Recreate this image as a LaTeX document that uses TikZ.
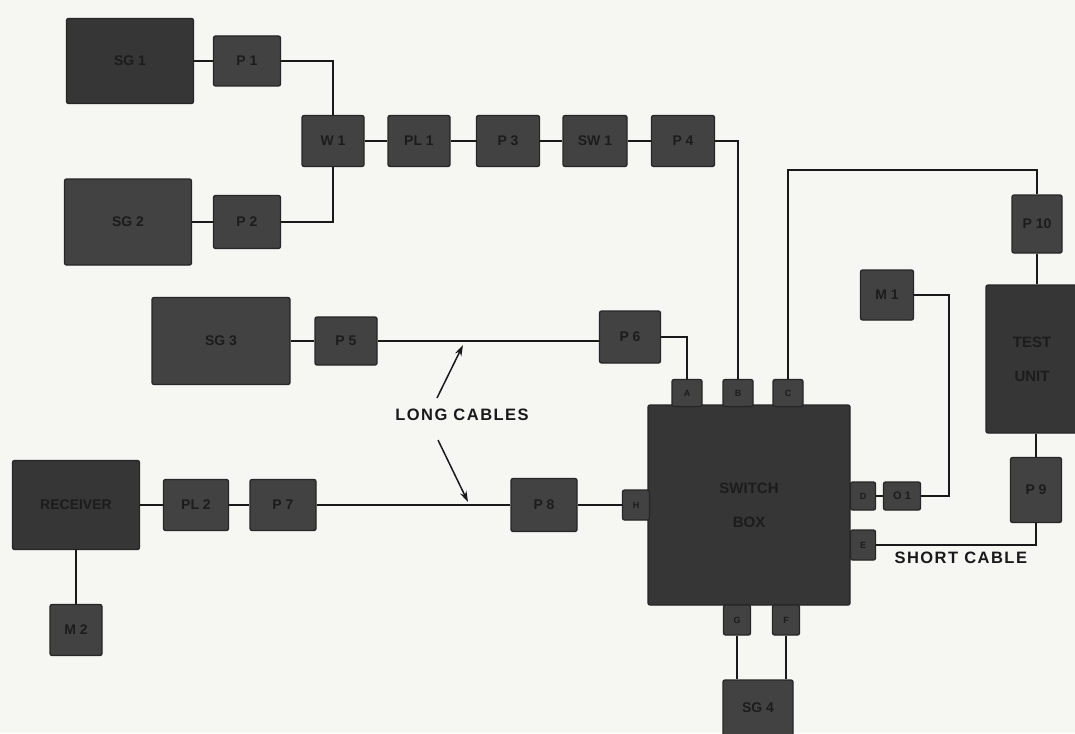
\documentclass[tikz,border=0pt]{standalone}
\usepackage{fontspec}
\setmainfont{Liberation Sans}
\usetikzlibrary{arrows.meta}
\definecolor{paper}{HTML}{F6F6F3}
\definecolor{boxfill}{HTML}{424242}
\definecolor{boxdark}{HTML}{363636}
\definecolor{boxtext}{HTML}{1C1C1C}
\tikzset{
  unit/.style={draw=black!85, line width=1.3pt, fill=boxfill, rounded corners=2pt,
    inner sep=0pt, text=boxtext, font=\bfseries\fontsize{14}{16}\selectfont, align=center},
  bigunit/.style={unit, fill=boxdark},
  port/.style={unit, font=\bfseries\fontsize{9}{10}\selectfont},
  wire/.style={draw=black!90, line width=1.8pt},
  note/.style={font=\bfseries\fontsize{16.5}{18}\selectfont\addfontfeature{LetterSpace=9}, text=black!90},
  pointer/.style={draw=black!90, line width=1.5pt, -{Stealth[length=11pt,width=7pt]}}
}
\begin{document}
\begin{tikzpicture}[x=1pt,y=-1pt]
\fill[paper] (0,0) rectangle (1075,733);
\useasboundingbox (0,0) rectangle (1075,733);

% top-left group
\node[bigunit, minimum width=127pt, minimum height=85pt] (sg1) at (130,61) {SG 1};
\node[unit, minimum width=67pt, minimum height=50pt] (p1) at (247,61) {P 1};
\node[unit, minimum width=127pt, minimum height=86pt] (sg2) at (128,222) {SG 2};
\node[unit, minimum width=67pt, minimum height=53pt] (p2) at (247,222) {P 2};

% chain
\node[unit, minimum width=62pt, minimum height=51pt] (w1) at (333,141) {W 1};
\node[unit, minimum width=62pt, minimum height=51pt] (pl1) at (419,141) {PL 1};
\node[unit, minimum width=63pt, minimum height=51pt] (p3) at (508,141) {P 3};
\node[unit, minimum width=64pt, minimum height=51pt] (sw1) at (595,141) {SW 1};
\node[unit, minimum width=63pt, minimum height=51pt] (p4) at (683,141) {P 4};

% middle
\node[unit, minimum width=138pt, minimum height=87pt] (sg3) at (221,341) {SG 3};
\node[unit, minimum width=62pt, minimum height=48pt] (p5) at (346,341) {P 5};
\node[unit, minimum width=61pt, minimum height=52pt] (p6) at (630,337) {P 6};

% receiver line
\node[bigunit, minimum width=127pt, minimum height=89pt] (rec) at (76,505) {RECEIVER};
\node[unit, minimum width=65pt, minimum height=51pt] (pl2) at (196,505) {PL 2};
\node[unit, minimum width=66pt, minimum height=51pt] (p7) at (283,505) {P 7};
\node[unit, minimum width=66pt, minimum height=53pt] (p8) at (544,505) {P 8};
\node[unit, minimum width=52pt, minimum height=51pt] (m2) at (76,630) {M 2};

% switch box and ports
\node[bigunit, minimum width=202pt, minimum height=200pt, font=\bfseries\fontsize{15}{30}\selectfont] (sw) at (749,505) {SWITCH\\[4pt]BOX};
\node[port, minimum width=30pt, minimum height=27pt] (pa) at (687,393) {A};
\node[port, minimum width=30pt, minimum height=27pt] (pb) at (738,393) {B};
\node[port, minimum width=30pt, minimum height=27pt] (pc) at (788,393) {C};
\node[port, minimum width=27pt, minimum height=30pt] (ph) at (636,505) {H};
\node[port, minimum width=25pt, minimum height=28pt] (pd) at (863,496) {D};
\node[port, minimum width=25pt, minimum height=30pt] (pe) at (863,545) {E};
\node[port, minimum width=27pt, minimum height=30pt] (pg) at (737,620) {G};
\node[port, minimum width=27pt, minimum height=30pt] (pf) at (786,620) {F};
\node[unit, minimum width=37pt, minimum height=28pt, font=\bfseries\fontsize{11}{12}\selectfont] (o1) at (902,496) {O 1};
\node[unit, minimum width=70pt, minimum height=56pt] (sg4) at (758,708) {SG 4};

% right side
\node[unit, minimum width=53pt, minimum height=50pt] (m1) at (887,295) {M 1};
\node[unit, minimum width=50pt, minimum height=58pt] (p10) at (1037,224) {P 10};
\node[bigunit, minimum width=92pt, minimum height=148pt, font=\bfseries\fontsize{15}{30}\selectfont] (tu) at (1032,359) {TEST\\[4pt]UNIT};
\node[unit, minimum width=51pt, minimum height=65pt] (p9) at (1036,490) {P 9};

% wires
\draw[wire] (sg1) -- (p1);
\draw[wire] (sg2) -- (p2);
\draw[wire] (p1.east) -| (w1.north);
\draw[wire] (p2.east) -| (w1.south);
\draw[wire] (w1) -- (pl1);
\draw[wire] (pl1) -- (p3);
\draw[wire] (p3) -- (sw1);
\draw[wire] (sw1) -- (p4);
\draw[wire] (p4.east) -| (pb.north);
\draw[wire] (sg3) -- (p5);
\draw[wire] (p5.east) -- (p5.east -| p6.west);
\draw[wire] (p6.east) -| (pa.north);
\coordinate (c1) at (788,170);
\draw[wire] (pc.north) -- (c1) -| (p10.north);
\draw[wire] (p10) -- (p10.south |- tu.north);
\draw[wire] (tu.south -| p9.north) -- (p9);
\draw[wire] (m1.east) -- (949,295) |- (o1.east);
\draw[wire] (pd) -- (o1);
\draw[wire] (pe.east) -| (p9.south);
\draw[wire] (rec) -- (pl2);
\draw[wire] (pl2) -- (p7);
\draw[wire] (p7) -- (p8);
\draw[wire] (p8) -- (ph);
\draw[wire] (rec) -- (m2);
\draw[wire] (pg) -- (pg |- sg4.north);
\draw[wire] (pf) -- (pf |- sg4.north);

% labels
\node[note, anchor=center] (lc) at (462,415) {LONG CABLES};
\node[note, anchor=west] (sc) at (891,558) {SHORT CABLE};
\coordinate (t1) at (463,345);
\coordinate (t2) at (468,502);
\draw[pointer] (437,398) -- (t1);
\draw[pointer] (438,440) -- (t2);
\end{tikzpicture}
\end{document}
